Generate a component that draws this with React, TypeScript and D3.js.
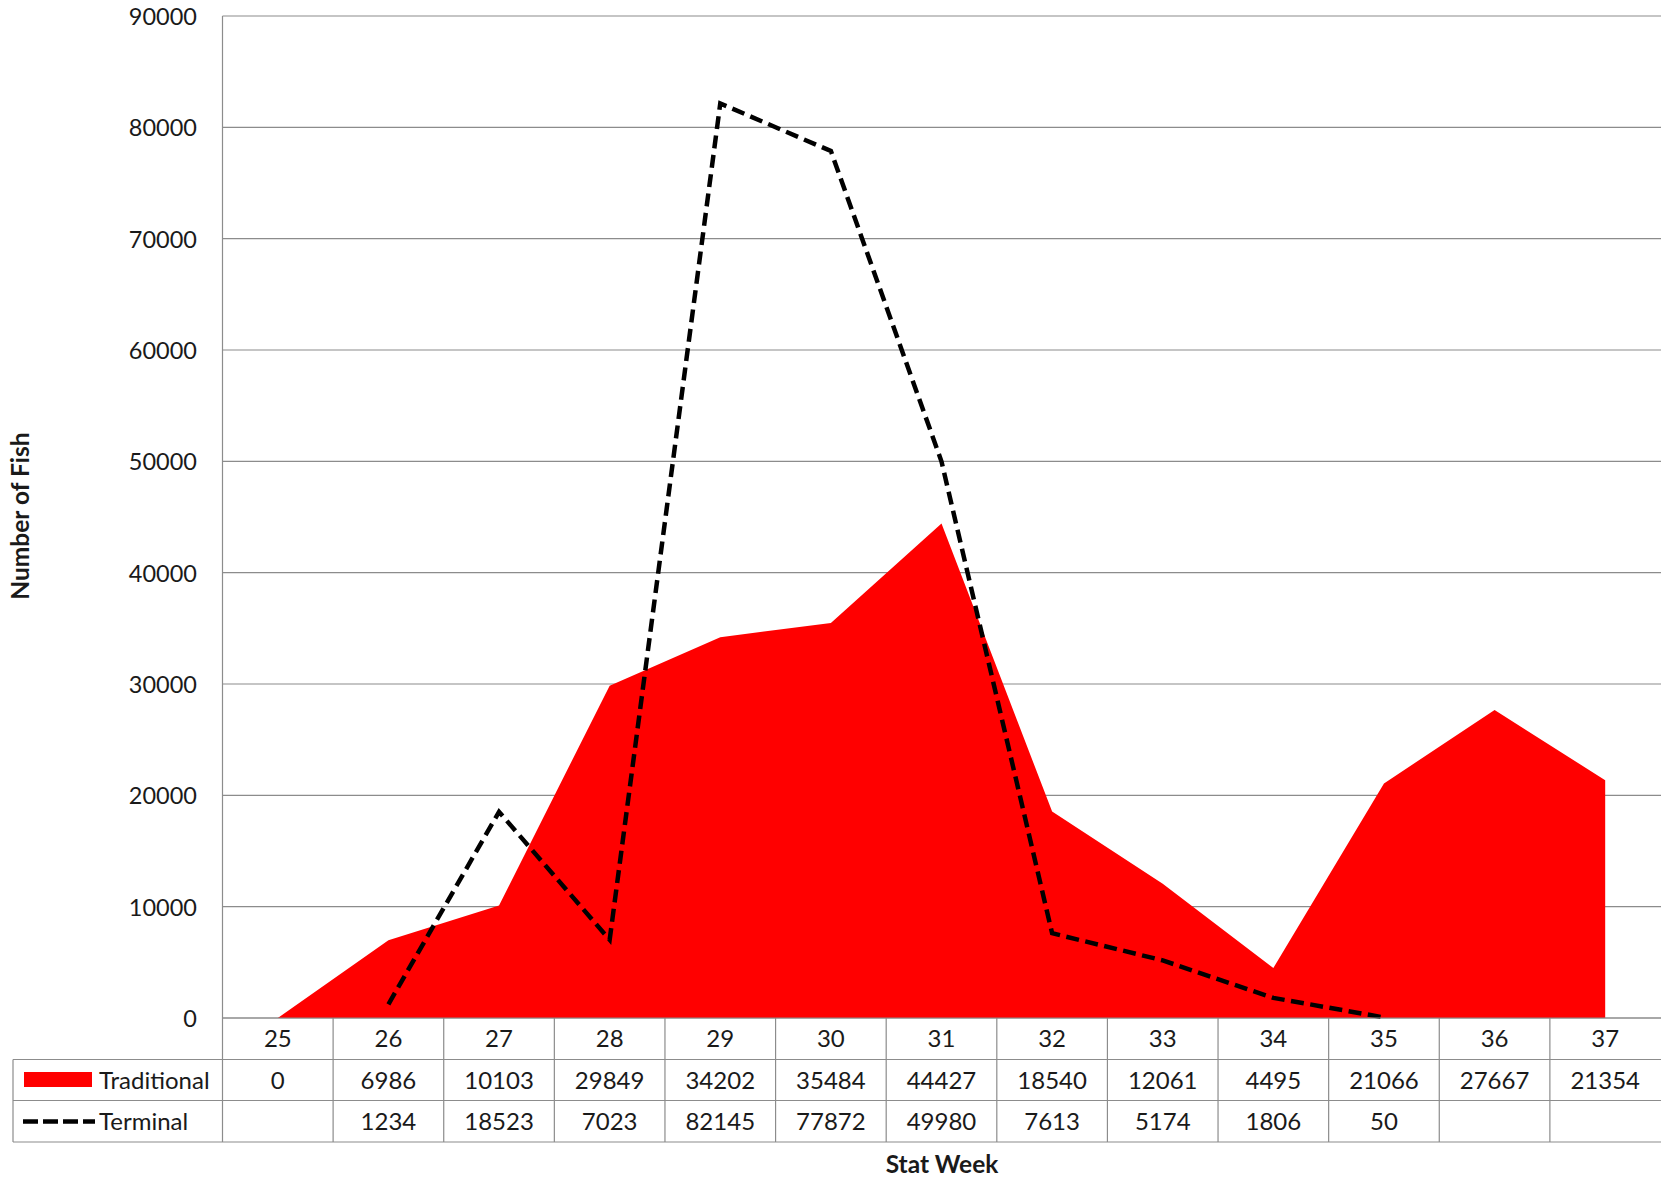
import React from "react";
import * as d3 from "d3";

const weeks = ["25", "26", "27", "28", "29", "30", "31", "32", "33", "34", "35", "36", "37"];
const traditional: number[] = [0, 6986, 10103, 29849, 34202, 35484, 44427, 18540, 12061, 4495, 21066, 27667, 21354];
const terminal: (number | null)[] = [null, 1234, 18523, 7023, 82145, 77872, 49980, 7613, 5174, 1806, 50, null, null];
const yTicks = [0, 10000, 20000, 30000, 40000, 50000, 60000, 70000, 80000, 90000];
const seriesNames = ["Traditional", "Terminal"];

const W = 1661;
const H = 1182;
const FONT = "Lato, 'Open Sans', sans-serif";
const GRID = "#8c8c8c";
const TEXT = "#1a1a1a";

export default function App() {
  const plotLeft = 222.5;
  const plotRight = 1660.5;
  const plotTop = 16;
  const plotBottom = 1018;
  const row1 = 1059.5;
  const row2 = 1100.5;
  const row3 = 1142;
  const tableLeft = 13;
  const fs = 24;

  const x = d3.scaleBand<string>().domain(weeks).range([plotLeft, plotRight]).padding(0);
  const y = d3.scaleLinear().domain([0, 90000]).range([plotBottom, plotTop]);
  const cx = (w: string) => (x(w) as number) + x.bandwidth() / 2;

  const area = d3
    .area<number>()
    .x((_, i) => cx(weeks[i]))
    .y0(y(0))
    .y1((d) => y(d));
  const line = d3
    .line<number | null>()
    .defined((d) => d != null)
    .x((_, i) => cx(weeks[i]))
    .y((d) => y(d as number));

  const bounds = weeks.map((w) => x(w) as number);

  return (
    <svg
      width={W}
      height={H}
      style={{ position: "absolute", left: 0, top: 0, background: "#fff" }}
      fontFamily={FONT}
    >
      <rect x={0} y={0} width={W} height={H} fill="#fff" />
      {yTicks.map((t) => (
        <line key={t} x1={plotLeft} x2={W} y1={y(t)} y2={y(t)} stroke={GRID} strokeWidth={1.2} />
      ))}
      {yTicks.map((t) => (
        <text
          key={"l" + t}
          x={197}
          y={y(t)}
          textAnchor="end"
          dominantBaseline="central"
          fontSize={23.5}
          fill={TEXT}
        >
          {t}
        </text>
      ))}
      <path d={area(traditional) || ""} fill="#ff0000" />
      <path
        d={line(terminal) || ""}
        fill="none"
        stroke="#000"
        strokeWidth={4.5}
        strokeDasharray="13 6.5"
        strokeLinejoin="miter"
      />
      <line x1={plotLeft} x2={W} y1={plotBottom} y2={plotBottom} stroke={GRID} strokeWidth={1.2} />
      {[row1, row2, row3].map((r) => (
        <line key={r} x1={tableLeft} x2={W} y1={r} y2={r} stroke={GRID} strokeWidth={1.2} />
      ))}
      <line x1={tableLeft} x2={tableLeft} y1={row1} y2={row3} stroke={GRID} strokeWidth={1.2} />
      <line x1={plotLeft} x2={plotLeft} y1={plotTop} y2={row3} stroke={GRID} strokeWidth={1.2} />
      {bounds.slice(1).map((b, i) => (
        <line key={"v" + i} x1={b} x2={b} y1={plotBottom} y2={row3} stroke={GRID} strokeWidth={1.2} />
      ))}
      {weeks.map((w) => (
        <text
          key={"c" + w}
          x={cx(w)}
          y={(plotBottom + row1) / 2 - 1}
          textAnchor="middle"
          dominantBaseline="central"
          fontSize={fs}
          fill={TEXT}
        >
          {w}
        </text>
      ))}
      {traditional.map((v, i) => (
        <text
          key={"t" + i}
          x={cx(weeks[i])}
          y={(row1 + row2) / 2 - 1}
          textAnchor="middle"
          dominantBaseline="central"
          fontSize={fs}
          fill={TEXT}
        >
          {v}
        </text>
      ))}
      {terminal.map((v, i) =>
        v == null ? null : (
          <text
            key={"m" + i}
            x={cx(weeks[i])}
            y={(row2 + row3) / 2 - 1}
            textAnchor="middle"
            dominantBaseline="central"
            fontSize={fs}
            fill={TEXT}
          >
            {v}
          </text>
        )
      )}
      <rect x={24} y={1072} width={68} height={15} fill="#ff0000" />
      <line x1={23} x2={95} y1={1121.5} y2={1121.5} stroke="#000" strokeWidth={4.5} strokeDasharray="15 5" />
      <text x={99} y={(row1 + row2) / 2 - 1} dominantBaseline="central" fontSize={fs} fill={TEXT}>
        {seriesNames[0]}
      </text>
      <text x={99} y={(row2 + row3) / 2 - 1} dominantBaseline="central" fontSize={fs} fill={TEXT}>
        {seriesNames[1]}
      </text>
      <text
        transform={`translate(19, 516) rotate(-90)`}
        textAnchor="middle"
        dominantBaseline="central"
        fontSize={24.5}
        fontWeight="bold"
        fill={TEXT}
      >
        Number of Fish
      </text>
      <text x={942} y={1163} textAnchor="middle" dominantBaseline="central" fontSize={24.5} fontWeight="bold" fill={TEXT}>
        Stat Week
      </text>
    </svg>
  );
}
